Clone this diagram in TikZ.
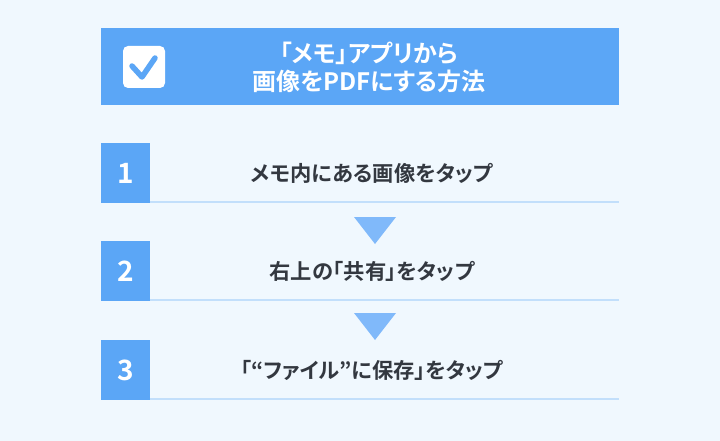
\documentclass[tikz,border=0pt]{standalone}
\usepackage{fontspec}
\setmainfont{Noto Sans CJK JP}
\newfontfamily\jpb{Noto Sans CJK JP}[BoldFont={Noto Sans CJK JP Bold}, RawFeature=+palt]
\definecolor{bgc}{HTML}{F0F8FE}
\definecolor{mainblue}{HTML}{5BA6F6}
\definecolor{linec}{HTML}{C2DFFB}
\definecolor{tric}{HTML}{80B9FA}
\definecolor{txt}{HTML}{333840}
\tikzset{
  numbox/.style={fill=mainblue, draw=none, minimum width=49pt, minimum height=60pt, inner sep=0pt, text=white, font=\jpb\bfseries\fontsize{28pt}{30pt}\selectfont},
  steptext/.style={text=txt, font=\jpb\bfseries\fontsize{21.3pt}{24pt}\selectfont, inner sep=0pt},
  uline/.style={linec, line width=2.5pt},
  tri/.style={fill=tric, draw=none}
}
\begin{document}
\begin{tikzpicture}[x=1pt,y=-1pt]
\fill[bgc] (0,0) rectangle (720,441);
\useasboundingbox (0,0) rectangle (720,441);
% title
\node[fill=mainblue, minimum width=518pt, minimum height=77pt, inner sep=0pt, anchor=north west] (title) at (101,28) {};
\node[fill=white, rounded corners=5pt, minimum width=42pt, minimum height=42pt, inner sep=0pt] (chk) at (144,67) {};
\draw[mainblue, line width=5.5pt, line cap=round, line join=round] ([xshift=-12pt,yshift=1pt]chk.center) -- ([xshift=-2pt,yshift=-10pt]chk.center) -- ([xshift=11pt,yshift=9pt]chk.center);
\node[text=white, font=\jpb\bfseries\fontsize{24pt}{28pt}\selectfont, align=center, inner sep=0pt] (ttext) at (369,67) {「メモ」アプリから\\画像をPDFにする方法};
% steps
\foreach \n/\y/\t in {1/173/メモ内にある画像をタップ, 2/271/右上の「共有」をタップ, 3/370/「“ファイル”に保存」をタップ}{
  \node[numbox] (num\n) at (125.5,\y) {\n};
  \coordinate (ls\n) at (150,\y+29);
  \coordinate (le\n) at (619,\y+29);
  \draw[uline] (ls\n) -- (le\n);
  \node[steptext] (st\n) at (372,\y) {\t};
}
% triangles
\fill[tric] (354,217) -- (396,217) -- (375,244) -- cycle;
\fill[tric] (354,313) -- (396,313) -- (375,340) -- cycle;
\end{tikzpicture}
\end{document}
